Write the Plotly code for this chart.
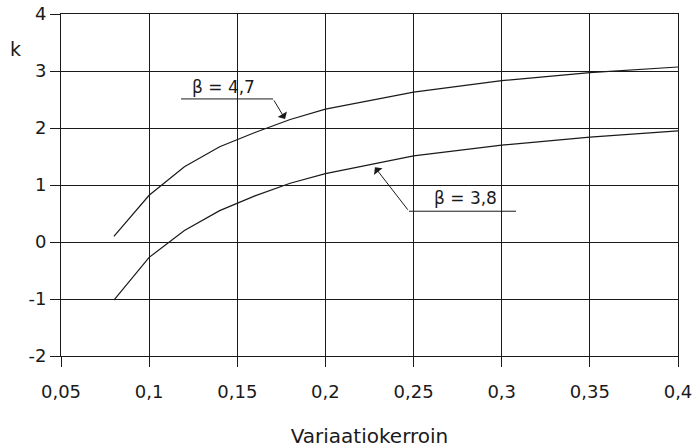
import plotly.graph_objects as go

x_vals = [0.08, 0.10, 0.12, 0.14, 0.16, 0.18, 0.20, 0.25, 0.30, 0.35, 0.40]
k_beta47 = [0.10, 0.82, 1.32, 1.67, 1.92, 2.15, 2.33, 2.63, 2.83, 2.97, 3.07]
k_beta38 = [-1.02, -0.27, 0.20, 0.55, 0.81, 1.03, 1.20, 1.51, 1.70, 1.84, 1.95]

x_ticks = [0.05, 0.1, 0.15, 0.2, 0.25, 0.3, 0.35, 0.4]
x_labels = ["0,05", "0,1", "0,15", "0,2", "0,25", "0,3", "0,35", "0,4"]
y_ticks = [-2, -1, 0, 1, 2, 3, 4]
y_labels = ["-2", "-1", "0", "1", "2", "3", "4"]

FONT = "DejaVu Sans"
INK = "#1a1a1a"

fig = go.Figure()
fig.add_trace(go.Scatter(x=x_vals, y=k_beta47, mode="lines",
                         line=dict(color=INK, width=1.2), name="β = 4,7"))
fig.add_trace(go.Scatter(x=x_vals, y=k_beta38, mode="lines",
                         line=dict(color=INK, width=1.2), name="β = 3,8"))

# leader lines (annotation callouts)
fig.add_shape(type="line", x0=0.1181, x1=0.1703, y0=2.51, y1=2.51,
              line=dict(color=INK, width=1))
fig.add_shape(type="line", x0=0.2474, x1=0.3081, y0=0.54, y1=0.54,
              line=dict(color=INK, width=1))

fig.add_annotation(x=0.1771, y=2.16, ax=0.1703, ay=2.51, xref="x", yref="y",
                   axref="x", ayref="y", showarrow=True, arrowhead=1,
                   arrowsize=1.8, arrowwidth=1, arrowcolor=INK, text="")
fig.add_annotation(x=0.2281, y=1.31, ax=0.2474, ay=0.54, xref="x", yref="y",
                   axref="x", ayref="y", showarrow=True, arrowhead=1,
                   arrowsize=1.8, arrowwidth=1, arrowcolor=INK, text="")

fig.add_annotation(x=0.1419, y=2.72, text="β = 4,7", showarrow=False,
                   font=dict(family=FONT, size=17, color=INK))
fig.add_annotation(x=0.2792, y=0.77, text="β = 3,8", showarrow=False,
                   font=dict(family=FONT, size=17, color=INK))

fig.add_annotation(xref="paper", yref="paper", x=-0.086, y=0.935, text="k",
                   showarrow=False, font=dict(family=FONT, size=19, color=INK))

fig.update_layout(
    width=698, height=448,
    margin=dict(l=61, r=20, t=14, b=92, autoexpand=False),
    paper_bgcolor="white", plot_bgcolor="white",
    showlegend=False,
    font=dict(family=FONT, size=18, color=INK),
)
fig.update_xaxes(range=[0.05, 0.4], tickvals=x_ticks, ticktext=x_labels,
                 showgrid=True, automargin=False,
                 gridcolor=INK, gridwidth=1, zeroline=False,
                 showline=True, linecolor=INK, linewidth=1, mirror=True,
                 ticks="outside", ticklen=10, tickcolor=INK,
                 ticklabelstandoff=9,
                 tickfont=dict(family=FONT, size=18, color=INK),
                 title=dict(text="Variaatiokerroin", standoff=28,
                            font=dict(family=FONT, size=20, color=INK)))
fig.update_yaxes(range=[-2, 4], tickvals=y_ticks, ticktext=y_labels,
                 showgrid=True, automargin=False,
                 gridcolor=INK, gridwidth=1, zeroline=False,
                 showline=True, linecolor=INK, linewidth=1, mirror=True,
                 ticks="outside", ticklen=10, tickcolor=INK,
                 tickfont=dict(family=FONT, size=18, color=INK))

# remove the browser's default 8px page margin so the figure fills the window
fig.write_html("out.html", config={"displayModeBar": False},
               post_script="document.body.style.margin='0px';"
                           "document.body.style.overflow='hidden';")
